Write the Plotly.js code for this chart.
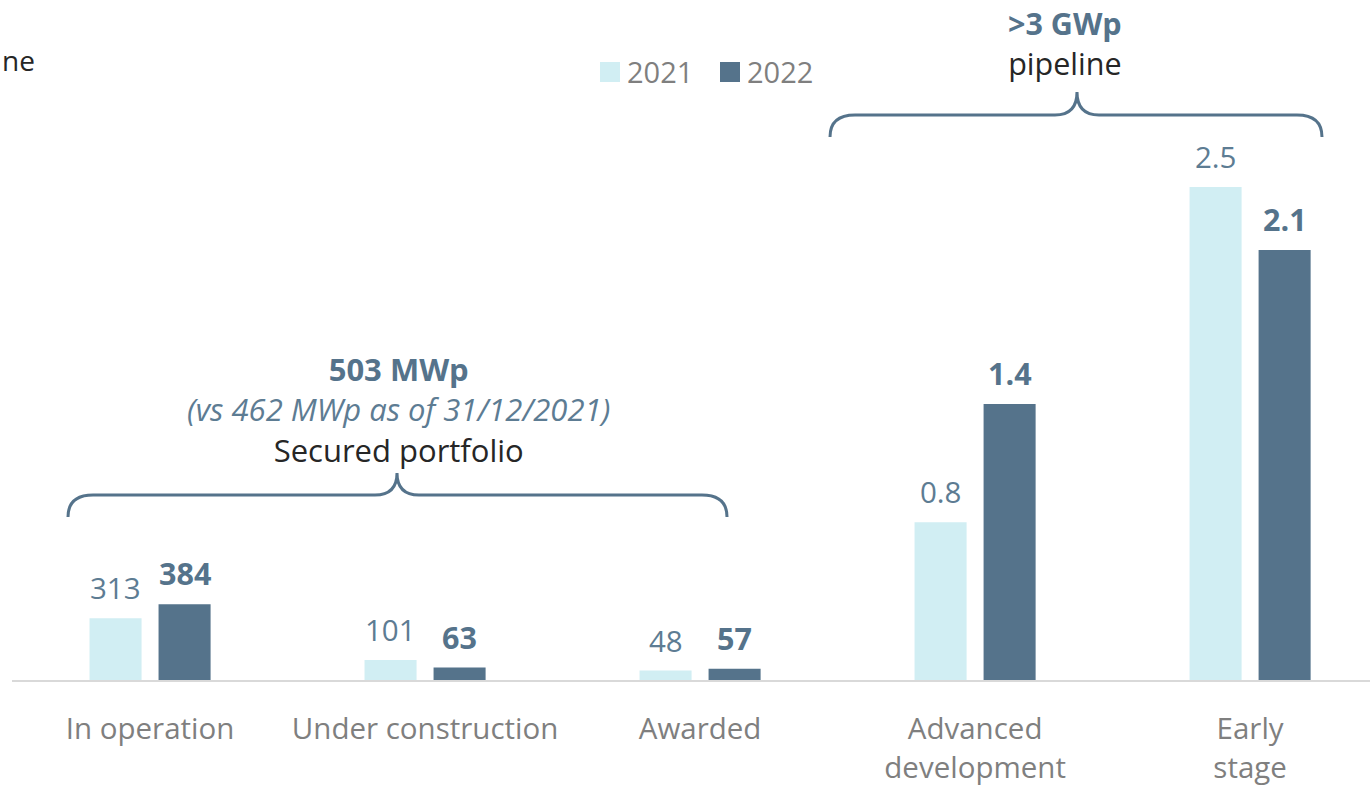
<!DOCTYPE html>
<html>
<head>
<meta charset="utf-8">
<script src="https://cdn.plot.ly/plotly-3.0.1.min.js"></script>
<style>html,body{margin:0;padding:0;background:#fff;}#chart{width:1370px;height:786px;}</style>
</head>
<body>
<div id="chart"></div>
<script>
// ---- data ----
const categories = ["In operation", "Under construction", "Awarded", "Advanced<br>development", "Early<br>stage"];
const seriesNames = ["2021", "2022"];
// bar heights in MWp (GWp values converted to MWp so both groups share one scale)
const values2021 = [313, 101, 48, 800, 2500];
const values2022 = [384, 63, 57, 1400, 2180];
const labels2021 = ["313", "101", "48", "0.8", "2.5"];
const labels2022 = ["384", "63", "57", "1.4", "2.1"];

// ---- style ----
const LIGHT = "#d1eef3";
const DARK = "#55738b";
const LABEL_LIGHT = "#5d7c93";
const GREY = "#7f7f7f";
const INK = "#262626";
const FONT = "Open Sans, Noto Sans, sans-serif";

// pixel helpers (plot area: x 12..1370, y 0..680)
const L = 12, W = 1358, H = 680;
const px = x => (x - L) / W;
const py = y => (H - y) / H;

function brace(x0, x1, xt, yEnd, yLine, yTip, r, rt) {
  const p = (x, y) => px(x).toFixed(5) + "," + py(y).toFixed(5);
  return "M" + p(x0, yEnd) +
    " Q" + p(x0, yLine) + " " + p(x0 + r, yLine) +
    " L" + p(xt - rt, yLine) +
    " Q" + p(xt, yLine) + " " + p(xt, yTip) +
    " Q" + p(xt, yLine) + " " + p(xt + rt, yLine) +
    " L" + p(x1 - r, yLine) +
    " Q" + p(x1, yLine) + " " + p(x1, yEnd);
}

const idx = categories.map((c, i) => i);
const traces = [
  {type: "bar", name: seriesNames[0], x: idx, y: values2021, marker: {color: LIGHT}, hoverinfo: "skip"},
  {type: "bar", name: seriesNames[1], x: idx, y: values2022, marker: {color: DARK}, hoverinfo: "skip"}
];

const OFF = 0.1255;
const annotations = [];
idx.forEach(i => {
  annotations.push({xref: "x", yref: "y", x: i - OFF, y: values2021[i], text: labels2021[i],
    showarrow: false, yanchor: "bottom", yshift: 8, font: {family: FONT, size: 29.5, color: LABEL_LIGHT}});
  annotations.push({xref: "x", yref: "y", x: i + OFF, y: values2022[i], text: "<b>" + labels2022[i] + "</b>",
    showarrow: false, yanchor: "bottom", yshift: 8, font: {family: FONT, size: 30.5, color: DARK}});
});

function txt(x, y, text, color, size, opts) {
  return Object.assign({xref: "paper", yref: "paper", x: px(x), y: py(y), text: text, showarrow: false,
    xanchor: "center", yanchor: "middle", font: {family: FONT, size: size, color: color}}, opts || {});
}
annotations.push(txt(398, 409,
  "<b>503 MWp</b><br>" +
  "<i><span style='color:" + LABEL_LIGHT + "'>(vs 462 MWp as of 31/12/2021)</span></i><br>" +
  "<span style='color:" + INK + "'>Secured portfolio</span>", DARK, 31));
annotations.push(txt(1065, 43,
  "<b>>3 GWp</b><br>" +
  "<span style='color:" + INK + "'>pipeline</span>", DARK, 30.5));
annotations.push(txt(0, 60, "ne", INK, 28, {xanchor: "left"}));
// legend
annotations.push(txt(625, 72, seriesNames[0], GREY, 29, {xanchor: "left"}));
annotations.push(txt(745, 72, seriesNames[1], GREY, 29, {xanchor: "left"}));

const shapes = [
  {type: "path", xref: "paper", yref: "paper", path: brace(68, 727, 397, 517, 495, 473, 25, 22), line: {color: DARK, width: 3}},
  {type: "path", xref: "paper", yref: "paper", path: brace(830, 1322, 1077, 137, 115, 92, 25, 22), line: {color: DARK, width: 3}},
  {type: "rect", xref: "paper", yref: "paper", x0: px(600), x1: px(620), y0: py(82), y1: py(62), fillcolor: LIGHT, line: {width: 0}},
  {type: "rect", xref: "paper", yref: "paper", x0: px(720), x1: px(740), y0: py(82), y1: py(62), fillcolor: DARK, line: {width: 0}}
];

const layout = {
  width: 1370, height: 786,
  margin: {l: L, r: 0, t: 0, b: 106, pad: 0},
  paper_bgcolor: "#fff", plot_bgcolor: "#fff",
  showlegend: false,
  barmode: "group", bargap: 0.498, bargroupgap: 0.246,
  font: {family: FONT},
  xaxis: {
    type: "linear", range: [-0.502, 4.436],
    tickmode: "array", tickvals: idx, ticktext: categories,
    showgrid: false, zeroline: false, showline: true, linecolor: "#d9d9d9", linewidth: 2,
    ticks: "", tickfont: {family: FONT, size: 29.5, color: GREY}, ticklabelstandoff: 22
  },
  yaxis: {range: [0, 3448], visible: false, showgrid: false, zeroline: false, fixedrange: true},
  annotations: annotations,
  shapes: shapes
};

Plotly.newPlot("chart", traces, layout, {displayModeBar: false, staticPlot: true});
</script>
</body>
</html>
